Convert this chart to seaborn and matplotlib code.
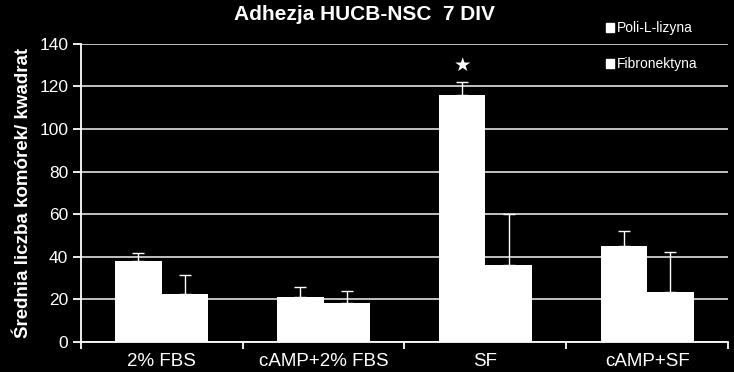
import matplotlib
matplotlib.use("Agg")
import matplotlib.pyplot as plt
import seaborn as sns
import pandas as pd
import numpy as np
from matplotlib.ticker import FixedLocator
from matplotlib.patches import Patch

categories = ["2% FBS", "cAMP+2% FBS", "SF", "cAMP+SF"]
series = ["Poli-L-lizyna", "Fibronektyna"]
poli = [38, 21, 116, 45]
fibro = [22.5, 18.5, 36, 23.5]
poli_err = [4, 5, 6, 7]
fibro_err = [9, 5.5, 24, 19]
yticks = [0, 20, 40, 60, 80, 100, 120, 140]

df = pd.DataFrame({
    "cat": categories * 2,
    "series": [series[0]] * 4 + [series[1]] * 4,
    "val": poli + fibro,
})

sns.set_theme(style="dark")
plt.rcParams["font.family"] = ["Liberation Sans", "DejaVu Sans"]

fig = plt.figure(figsize=(7.34, 3.72), dpi=100, facecolor="black")
ax = fig.add_axes([0.110, 0.0806, 0.882, 0.8014])
ax.set_facecolor("black")

sns.barplot(data=df, x="cat", y="val", hue="series", order=categories,
            hue_order=series, palette=["white", "white"], width=0.574,
            saturation=1, edgecolor="white", linewidth=0, legend=False, ax=ax)

# error bars (upper only) from bar patches
patches = [p for p in ax.patches if p.get_height() > 0]
patches.sort(key=lambda p: p.get_x())
vals_sorted = []
errs_sorted = []
for i in range(4):
    vals_sorted += [poli[i], fibro[i]]
    errs_sorted += [poli_err[i], fibro_err[i]]
xs = [p.get_x() + p.get_width() / 2 for p in patches]
ax.errorbar(xs, vals_sorted, yerr=[np.zeros(len(errs_sorted)), errs_sorted],
            fmt="none", ecolor="white", elinewidth=1.0, capsize=4, capthick=1.0, zorder=4)

# star above SF Poli-L-lizyna bar
ax.text(xs[4], 130, "★", color="white", ha="center", va="center", fontsize=14,
        family="DejaVu Sans")

ax.set_ylim(0, 140)
ax.set_xlim(-0.5, 3.5)
ax.set_yticks(yticks)
ax.yaxis.grid(True, color="#d0d0d0", linewidth=1.3)
ax.xaxis.grid(False)
ax.set_axisbelow(True)

for s in ["top", "right"]:
    ax.spines[s].set_visible(False)
for s in ["left", "bottom"]:
    ax.spines[s].set_visible(True)
    ax.spines[s].set_color("white")
    ax.spines[s].set_linewidth(1.3)

ax.tick_params(axis="y", colors="white", labelsize=12.5, length=6, width=1.3,
               direction="out", left=True, pad=3)
ax.tick_params(axis="x", which="major", colors="white", labelsize=13.5, length=0, pad=8)
ax.xaxis.set_minor_locator(FixedLocator([-0.5, 0.5, 1.5, 2.5, 3.5]))
ax.tick_params(axis="x", which="minor", colors="white", length=5, width=1.3,
               direction="out", bottom=True)
for lbl in ax.get_xticklabels() + ax.get_yticklabels():
    lbl.set_color("white")

ax.set_xlabel("")
ax.set_ylabel("Średnia liczba komórek/ kwadrat", color="white", fontsize=13.5,
              fontweight="bold", labelpad=5)

fig.text(0.497, 0.962, "Adhezja HUCB-NSC  7 DIV", color="white", fontsize=15,
         fontweight="bold", ha="center", va="center")

# legend
handles = [Patch(facecolor="white", edgecolor="white") for _ in series]
leg = fig.legend(handles, series, loc="upper left", bbox_to_anchor=(0.818, 0.958),
                 frameon=False, fontsize=10, labelcolor="white", labelspacing=1.6,
                 handlelength=0.6, handleheight=0.6, handletextpad=0.15,
                 borderaxespad=0)

fig.savefig("out.png", dpi=100, facecolor="black")
